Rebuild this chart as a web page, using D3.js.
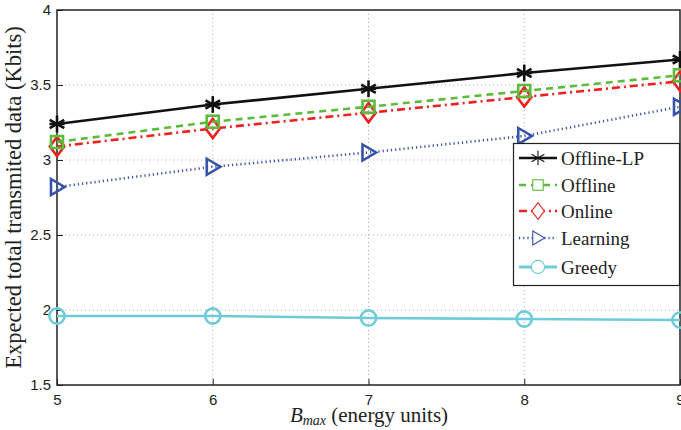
<!DOCTYPE html>
<html>
<head>
<meta charset="utf-8">
<script src="https://cdn.jsdelivr.net/npm/d3@7"></script>
<style>
  body { margin: 0; background: #fff; }
  .tick text { font-family: "Liberation Sans", Arial, sans-serif; font-size: 15px; fill: #222; }
</style>
</head>
<body>
<script>
var width = 681,
    height = 430;

var bmax = [5, 6, 7, 8, 9];
var offlineLP = [3.24, 3.37, 3.475, 3.58, 3.67];
var offline = [3.12, 3.255, 3.355, 3.46, 3.565];
var online = [3.09, 3.21, 3.315, 3.42, 3.525];
var learning = [2.82, 2.955, 3.05, 3.16, 3.355];
var greedy = [1.96, 1.96, 1.947, 1.94, 1.933];
var yTicks = [1.5, 2, 2.5, 3, 3.5, 4];

var series = [
  {name: "Offline-LP", values: offlineLP, color: "#111111", dash: null, marker: "star"},
  {name: "Offline", values: offline, color: "#5dbb3c", dash: "7,5", marker: "square"},
  {name: "Online", values: online, color: "#ee2020", dash: "8,4,2,4", marker: "diamond"},
  {name: "Learning", values: learning, color: "#3553a8", dash: "1.2,3", marker: "triangle"},
  {name: "Greedy", values: greedy, color: "#6ecbd9", dash: null, marker: "circle"}
];

var margin = {left: 57, right: 1, top: 10, bottom: 45};
var serif = "'Liberation Serif', 'DejaVu Serif', serif";

var svg = d3.select("body").append("svg")
    .attr("width", width)
    .attr("height", height);

var x = d3.scaleLinear().domain([5, 9]).range([margin.left, width - margin.right]);
var y = d3.scaleLinear().domain([1.5, 4]).range([height - margin.bottom, margin.top]);

// grid
var grid = svg.append("g").attr("stroke", "#aaa").attr("stroke-width", 1).attr("stroke-dasharray", "1,3");
grid.selectAll(".gx").data(bmax.slice(1, -1)).enter().append("line")
    .attr("x1", d => x(d)).attr("x2", d => x(d))
    .attr("y1", y(4)).attr("y2", y(1.5));
grid.selectAll(".gy").data(yTicks.slice(1, -1)).enter().append("line")
    .attr("x1", x(5)).attr("x2", x(9))
    .attr("y1", d => y(d)).attr("y2", d => y(d));

// axes
var xAxis = d3.axisBottom(x).tickValues(bmax).tickFormat(d3.format("d")).tickSizeInner(-6).tickSizeOuter(0).tickPadding(9);
var yAxis = d3.axisLeft(y).tickValues(yTicks).tickFormat(d3.format("")).tickSizeInner(-6).tickSizeOuter(0).tickPadding(6);

var gx = svg.append("g").attr("transform", "translate(0," + y(1.5) + ")").call(xAxis);
var gy = svg.append("g").attr("transform", "translate(" + x(5) + ",0)").call(yAxis);
[gx, gy].forEach(function(g) {
  g.select(".domain").remove();
  g.selectAll(".tick line").attr("stroke", "#222");
});

// box
svg.append("rect")
    .attr("x", x(5)).attr("y", y(4))
    .attr("width", x(9) - x(5)).attr("height", y(1.5) - y(4))
    .attr("fill", "none").attr("stroke", "#222").attr("stroke-width", 1.5);

function drawMarker(g, type, cx, cy, color, sw, s, fill) {
  fill = fill || "none";
  if (type === "star") {
    var r = s * 1.05;
    [0, 60, 120].forEach(function(a) {
      var t = a * Math.PI / 180;
      g.append("line")
        .attr("x1", cx - r * Math.sin(t)).attr("y1", cy - r * Math.cos(t))
        .attr("x2", cx + r * Math.sin(t)).attr("y2", cy + r * Math.cos(t))
        .attr("stroke", color).attr("stroke-width", sw);
    });
    g.append("line").attr("x1", cx - r * 0.9).attr("x2", cx + r * 0.9)
      .attr("y1", cy).attr("y2", cy).attr("stroke", color).attr("stroke-width", sw);
  } else if (type === "square") {
    g.append("rect").attr("x", cx - s * 0.75).attr("y", cy - s * 0.75)
      .attr("width", s * 1.5).attr("height", s * 1.5)
      .attr("fill", fill).attr("stroke", color).attr("stroke-width", sw);
  } else if (type === "diamond") {
    g.append("path")
      .attr("d", "M" + cx + "," + (cy - s * 1.2) + "L" + (cx + s * 0.9) + "," + cy +
                 "L" + cx + "," + (cy + s * 1.2) + "L" + (cx - s * 0.9) + "," + cy + "Z")
      .attr("fill", fill).attr("stroke", color).attr("stroke-width", sw);
  } else if (type === "triangle") {
    g.append("path")
      .attr("d", "M" + (cx - s * 0.75) + "," + (cy - s) + "L" + (cx + s * 0.95) + "," + cy +
                 "L" + (cx - s * 0.75) + "," + (cy + s) + "Z")
      .attr("fill", fill).attr("stroke", color).attr("stroke-width", sw);
  } else if (type === "circle") {
    g.append("circle").attr("cx", cx).attr("cy", cy).attr("r", s * 0.95)
      .attr("fill", fill).attr("stroke", color).attr("stroke-width", sw);
  }
}

var line = d3.line().x((d, i) => x(bmax[i])).y(d => y(d));

// draw back to front
series.slice().reverse().forEach(function(s) {
  var g = svg.append("g");
  g.append("path").datum(s.values)
    .attr("d", line)
    .attr("fill", "none")
    .attr("stroke", s.color)
    .attr("stroke-width", 2.6)
    .attr("stroke-dasharray", s.dash);
  s.values.forEach(function(v, i) {
    drawMarker(g, s.marker, x(bmax[i]), y(v), s.color, 2.6, 8);
  });
});

// legend
var lg = svg.append("g");
lg.append("rect").attr("x", 513.5).attr("y", 143.5).attr("width", 166).attr("height", 142)
  .attr("fill", "#fff").attr("stroke", "#222").attr("stroke-width", 1.2);
var legendY = [158, 185, 211, 238, 267];
series.forEach(function(s, i) {
  var ly = legendY[i];
  lg.append("line").attr("x1", 519).attr("x2", 557).attr("y1", ly).attr("y2", ly)
    .attr("stroke", s.color).attr("stroke-width", s.marker === "circle" ? 3 : 2.4)
    .attr("stroke-dasharray", s.dash);
  drawMarker(lg.append("g"), s.marker, 538, ly, s.color, 1.1, 7, "#fff");
  lg.append("text").attr("x", 561).attr("y", ly).attr("dy", "0.35em")
    .attr("font-family", serif)
    .attr("font-size", 19).attr("fill", "#222")
    .text(s.name);
});

// axis labels
var xl = svg.append("text")
    .attr("x", 369).attr("y", 422)
    .attr("text-anchor", "middle")
    .attr("font-family", serif)
    .attr("font-size", 21).attr("fill", "#222");
xl.append("tspan").attr("font-style", "italic").text("B");
xl.append("tspan").attr("font-style", "italic").attr("font-size", 14).attr("dy", 3).text("max");
xl.append("tspan").attr("dy", -3).text(" (energy units)");

svg.append("text")
    .attr("transform", "translate(21," + ((y(4) + y(1.5)) / 2) + ") rotate(-90)")
    .attr("text-anchor", "middle")
    .attr("font-family", serif)
    .attr("font-size", 22.5).attr("fill", "#222")
    .text("Expected total transmited data (Kbits)");
</script>
</body>
</html>
